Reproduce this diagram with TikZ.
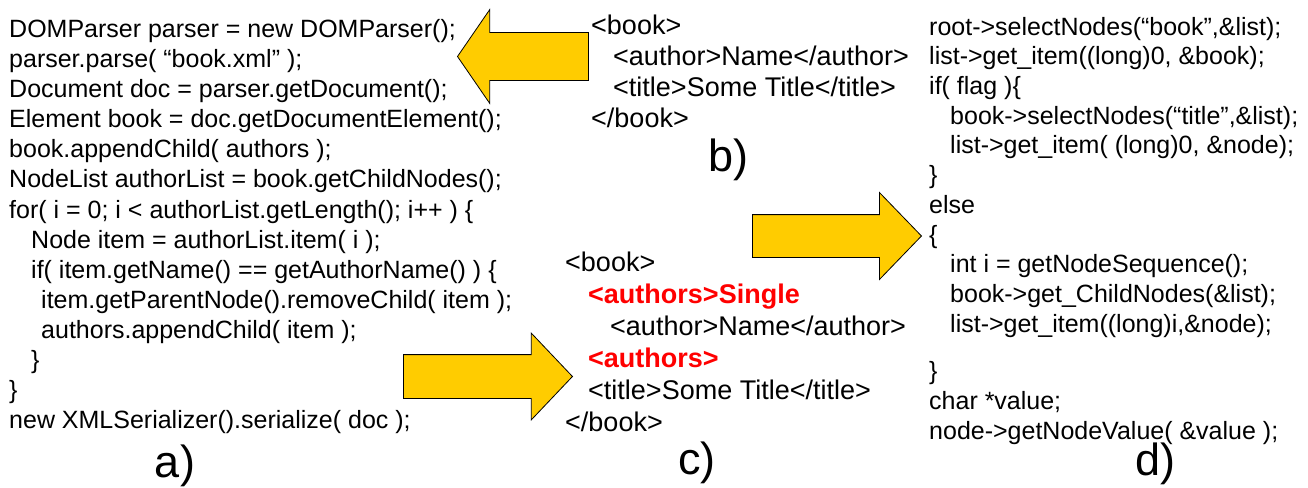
\documentclass[tikz,border=0pt]{standalone}
\usepackage{fontspec}
\setmainfont{Liberation Sans}
\usepackage{tikz}
\usetikzlibrary{positioning}
\usetikzlibrary{shapes.arrows}

\definecolor{arrowfill}{HTML}{FFCC00}
\definecolor{tagred}{HTML}{FF0000}

\tikzset{
    codeblock/.style={anchor=north west, inner sep=0pt, align=left, font=\fontsize{25}{#1}\selectfont},
    xmlblock/.style={anchor=north west, inner sep=0pt, align=left, font=\fontsize{27}{#1}\selectfont},
    panellabel/.style={inner sep=0pt, font=\fontsize{45}{50}\selectfont},
    bigarrow/.style={single arrow, draw=black, line width=0.8pt, fill=arrowfill,
        inner xsep=0pt, single arrow head indent=0pt, anchor=tip},
}
\newcommand{\redtag}[1]{{\bfseries\color{tagred}#1}}

\begin{document}
\begin{tikzpicture}[x=1pt, y=-1pt]
    \useasboundingbox (0,0) rectangle (1308,487);

    % Java DOM code
    \node[codeblock=30.1] (codeA) at (9,16.2) {\strut DOMParser parser = new DOMParser();\\
        parser.parse( “book.xml” );\\
        Document doc = parser.getDocument();\\
        Element book = doc.getDocumentElement();\\
        book.appendChild( authors );\\
        NodeList authorList = book.getChildNodes();\\
        for( i = 0; i < authorList.getLength(); i++ ) \{\\
        \hspace{22pt}Node item = authorList.item( i );\\
        \hspace{22pt}if( item.getName() == getAuthorName() ) \{\\
        \hspace{32pt}item.getParentNode().removeChild( item );\\
        \hspace{32pt}authors.appendChild( item );\\
        \hspace{22pt}\}\\
        \}\\
        new XMLSerializer().serialize( doc );};

    % the two XML documents
    \node[xmlblock=31] (xmlB) at (591,12.5) {\strut <book>\\
        \hspace{22pt}<author>Name</author>\\
        \hspace{22pt}<title>Some Title</title>\\
        </book>};

    \node[xmlblock=32] (xmlC) at (565,249.1) {\strut <book>\\
        \hspace{23pt}\redtag{<authors>Single}\\
        \hspace{45pt}<author>Name</author>\\
        \hspace{23pt}\redtag{<authors>}\\
        \hspace{23pt}<title>Some Title</title>\\
        </book>};

    % C++ MSXML code
    \node[codeblock=29.7] (codeD) at (929,14.2) {\strut root->selectNodes(“book”,\&list);\\
        list->get\_item((long)0, \&book);\\
        if( flag )\{\\
        \hspace{21pt}book->selectNodes(“title”,\&list);\\
        \hspace{21pt}list->get\_item( (long)0, \&node);\\
        \}\\
        else\\
        \{\\
        \hspace{21pt}int i = getNodeSequence();\\
        \hspace{21pt}book->get\_ChildNodes(\&list);\\
        \hspace{21pt}list->get\_item((long)i,\&node);\\[18pt]
        \}\\
        char *value;\\
        node->getNodeValue( \&value );};

    % block arrows
    \node[bigarrow, shape border rotate=180, minimum height=131pt, inner ysep=23.5pt,
        single arrow head extend=23pt, single arrow tip angle=111] (toA) at (457,56.5) {};
    \node[bigarrow, minimum height=169pt, inner ysep=21.5pt,
        single arrow head extend=21.5pt, single arrow tip angle=93] (toC) at (573,376.5) {};
    \node[bigarrow, minimum height=169pt, inner ysep=21pt,
        single arrow head extend=22pt, single arrow tip angle=92] (toD) at (922,236) {};

    \node[panellabel] (labA) at (175,466) {a)};
    \node[panellabel] (labB) at (728,160) {b)};
    \node[panellabel] (labC) at (697,463) {c)};
    \node[panellabel] (labD) at (1155,464) {d)};
\end{tikzpicture}
\end{document}
